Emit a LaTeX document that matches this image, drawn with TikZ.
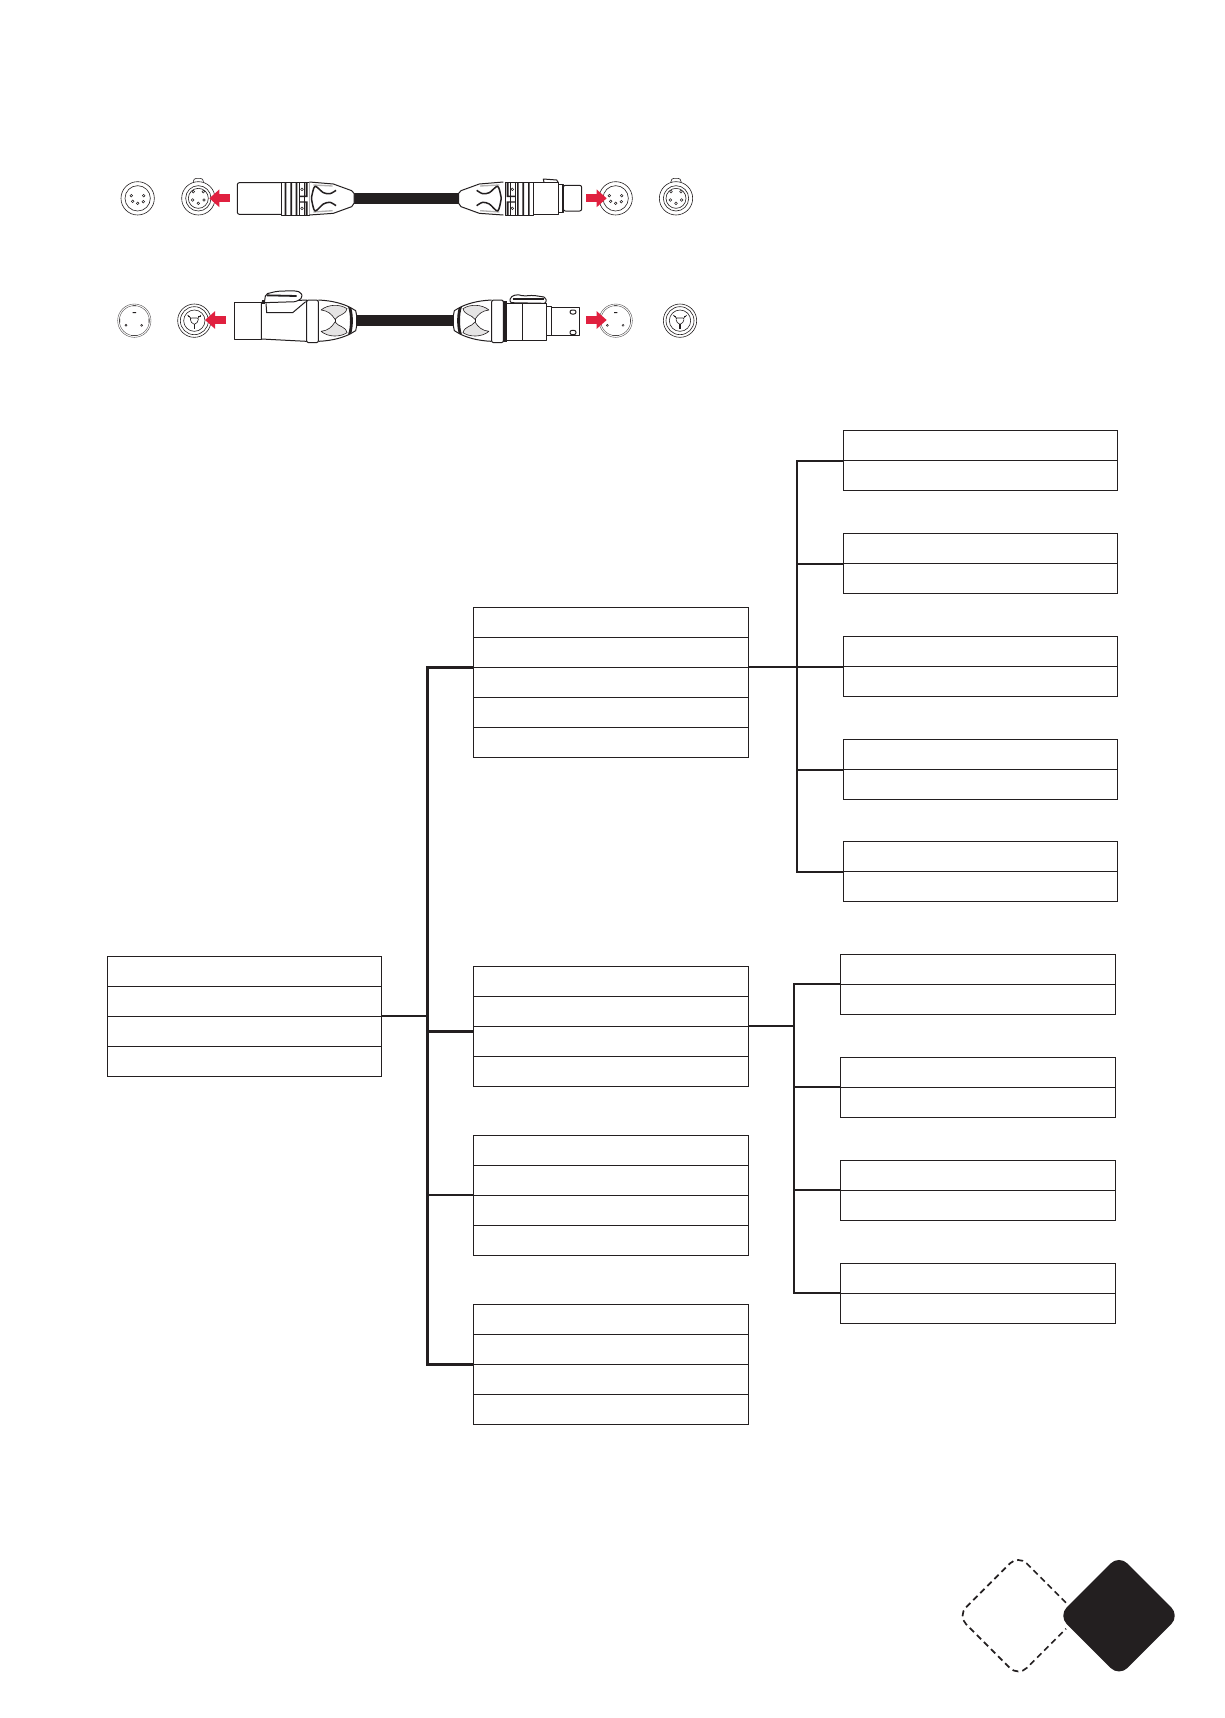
\documentclass[tikz,border=0pt]{standalone}
\usepackage{amsmath}
\usetikzlibrary{
  arrows.meta,
  positioning
}
\definecolor{Ink}{HTML}{231F20}
\definecolor{PlugRed}{HTML}{E0203F}
\tikzset{
  % Table row: fixed size, stacked without gaps
  cell/.style={
    rectangle, draw=Ink, line width=0.5pt,
    minimum width=137.3pt, minimum height=15pt,
    inner sep=0pt, outer sep=0pt
  },
  % Tree lines
  bus/.style={draw=Ink, line width=#1},
  bus/.default=1pt,
  % Plug outline
  plug/.style={draw=Ink, line width=0.5pt, line join=round},
  thin/.style={draw=Ink, line width=0.3pt},
  cable/.style={draw=Ink, line width=5.6pt},
  % Insert direction
  redarr/.style={
    -{Triangle[length=5pt,width=8.5pt]},
    line width=4pt, color=PlugRed
  },
  % Socket faces
  pin/.style={draw=Ink, line width=0.25pt, fill=white},
  xlrmale/.pic={
    \draw[thin] (0,0) circle (50) (0,0) circle (38);
    \foreach \a/\b in {-19/-8,18/-8,-15/9,17/10,0/15}
      \draw[pin] (\a,\b) circle (4);
  },
  xlrfemale/.pic={
    \draw[thin,fill=white,rounded corners=1.5pt] (-15,-45) -- (-15,-60) -- (15,-60) -- (15,-45);
    \draw[thin,fill=white] (0,0) circle (50);
    \draw[thin] (0,0) circle (38) (0,0) circle (30);
    \foreach \a/\b in {-15/-20,15/-20,-17/5,17/5,0/15}
      \draw[pin] (\a,\b) circle (4);
  },
  nlmale/.pic={
    \draw[draw=Ink!80,line width=0.2pt] (0,0) circle (50) (0,0) circle (45);
    \fill[Ink] (-5,-26) rectangle (5,-23) (-45,-6) rectangle (-43,6) (43,-6) rectangle (45,6)
      (-10,43) rectangle (10,45) (-5,-46) rectangle (5,-44);
    \draw[pin] (-25,14) circle (3) (22,14) circle (3);
  },
  nlfemale/.pic={
    \draw[thin] (0,0) circle (50) (0,0) circle (42) (0,0) circle (32);
    \draw[thin] (-20,-17) -- (-10,-7) (20,-17) -- (10,-7);
    \draw[plug,line width=0.8pt] (0,11) -- (0,24);
    \draw[thin,rounded corners=1pt] (-14,-8) -- (14,-8) -- (6,11) -- (-6,11) -- cycle;
    \draw[thin] (-19,-13) -- (-12,-13) (19,-13) -- (12,-13);
  },
  % XLR collar and boot, drawn from the body towards the cable
  xlrcollar/.pic={
    \draw[plug] (0,-48) rectangle (85,50);
    \fill[Ink] (11,-48) rectangle (16,50) (28,-48) rectangle (33,50) (44,-48) rectangle (49,50)
      (74,-48) rectangle (80,-8) (74,12) rectangle (80,50) (55,-8) rectangle (80,-4) (55,9) rectangle (80,13);
    \draw[thin] (55,-48) -- (55,50) (70,-48) -- (70,50);
    \draw[pin] (63,-27) circle (4) (63,30) circle (4);
  },
  xlrboot/.pic={
    \draw[plug,fill=white] (0,-49) -- (72,-43) -- (127,-23) -- (134,-15) -- (134,15) -- (127,25) -- (72,45) -- (0,50);
    \fill[Ink!35] (12,-42) -- (70,-39) -- (70,-35) -- (12,-38) -- cycle (12,43) -- (70,39) -- (70,35) -- (12,39) -- cycle;
    \draw[plug,line width=0.75pt] plot[smooth] coordinates {(80,-24) (62,-14) (42,-17) (17,-36) (7,-5) (7,5) (17,38) (42,17) (62,12) (80,22)};
  },
  % Locking connector boot
  nlboot/.pic={
    \draw[plug,fill=white] (0,-62) .. controls (45,-60) and (75,-50) .. (95,-40) -- (112,-30) -- (115,-15)
      -- (115,15) -- (112,30) -- (95,40) .. controls (75,50) and (45,60) .. (0,62);
    \fill[Ink] (89,-42) .. controls (97,-20) and (97,20) .. (89,42) -- (99,38) .. controls (105,15) and (105,-15) .. (99,-38) -- cycle;
    \draw[thin,fill=Ink!12] (8,-32) .. controls (30,-50) and (65,-50) .. (86,-36) .. controls (80,-15) and (62,-20) .. (50,-4)
      .. controls (40,-20) and (28,-30) .. (8,-32);
    \draw[thin,fill=Ink!12] (8,32) .. controls (30,50) and (65,50) .. (86,36) .. controls (80,15) and (62,20) .. (50,4)
      .. controls (40,20) and (28,30) .. (8,32);
    \draw[thin] (50,-4) -- (50,4);
  }
}
\begin{document}
\begin{tikzpicture}[x=0.5pt,y=-0.5pt]
  \useasboundingbox (0,0) rectangle (1225,1718);

  % Left table
  \node[cell,anchor=north west] (roota) at (107.2,956) {};
  \node[cell,below=0pt of roota] (rootb) {};
  \node[cell,below=0pt of rootb] (rootc) {};
  \node[cell,below=0pt of rootc] (rootd) {};

  % Middle tables
  \node[cell,anchor=north west] (ma) at (473.6,607.3) {};
  \node[cell,below=0pt of ma] (mb) {};
  \node[cell,below=0pt of mb] (mc) {};
  \node[cell,below=0pt of mc] (md) {};
  \node[cell,below=0pt of md] (me) {};

  \node[cell,anchor=north west] (na) at (473.6,966.3) {};
  \node[cell,below=0pt of na] (nb) {};
  \node[cell,below=0pt of nb] (nc) {};
  \node[cell,below=0pt of nc] (nd) {};

  \node[cell,anchor=north west] (oa) at (473.6,1135.3) {};
  \node[cell,below=0pt of oa] (ob) {};
  \node[cell,below=0pt of ob] (oc) {};
  \node[cell,below=0pt of oc] (od) {};

  \node[cell,anchor=north west] (pa) at (473.6,1304.3) {};
  \node[cell,below=0pt of pa] (pb) {};
  \node[cell,below=0pt of pb] (pc) {};
  \node[cell,below=0pt of pc] (pd) {};

  % Right tables, upper group
  \node[cell,anchor=north west] (ua) at (843.2,430.5) {};
  \node[cell,below=0pt of ua] (ub) {};
  \node[cell,anchor=north west] (va) at (843.2,533.5) {};
  \node[cell,below=0pt of va] (vb) {};
  \node[cell,anchor=north west] (wa) at (843.2,636.5) {};
  \node[cell,below=0pt of wa] (wb) {};
  \node[cell,anchor=north west] (xa) at (843.2,739.5) {};
  \node[cell,below=0pt of xa] (xb) {};
  \node[cell,anchor=north west] (za) at (843.2,841.5) {};
  \node[cell,below=0pt of za] (zb) {};

  % Right tables, lower group
  \node[cell,anchor=north west] (ga) at (840.6,954.3) {};
  \node[cell,below=0pt of ga] (gb) {};
  \node[cell,anchor=north west] (ha) at (840.6,1057.3) {};
  \node[cell,below=0pt of ha] (hb) {};
  \node[cell,anchor=north west] (ia) at (840.6,1160.3) {};
  \node[cell,below=0pt of ia] (ib) {};
  \node[cell,anchor=north west] (ja) at (840.6,1263.3) {};
  \node[cell,below=0pt of ja] (jb) {};

  % Tree junctions
  \coordinate (rootj) at (427.7,1016);
  \coordinate (upj) at (797.2,667.3);
  \coordinate (lowj) at (794,1026.3);

  % Tree lines
  \draw[bus] (rootb.south east) -- (rootj);
  \draw[bus=1.25pt] (mb.south west) -| (rootj);
  \draw[bus=1.25pt] (pb.south west) -| (rootj);
  \draw[bus=1.5pt] ([yshift=-2.5pt]nb.south west) -- ([yshift=-2.5pt]nb.south west -| rootj);
  \draw[bus] (ob.south west) -- (ob.south west -| rootj);

  \draw[bus] (mb.south east) -- (upj) -- (upj -| wa.west);
  \draw[bus] (ua.south west) -| (upj);
  \draw[bus] (za.south west) -| (upj);
  \draw[bus] (va.south west) -- (va.south west -| upj);
  \draw[bus] (xa.south west) -- (xa.south west -| upj);

  \draw[bus] (nb.south east) -- (lowj);
  \draw[bus] (ga.south west) -| (lowj);
  \draw[bus] (ja.south west) -| (lowj);
  \draw[bus] (ha.south west) -- (ha.south west -| lowj);
  \draw[bus] (ia.south west) -- (ia.south west -| lowj);

  % Cables
  \draw[cable] (352,198.3) -- (461,198.3);
  \draw[cable] (356,320.7) -- (455,320.7);

  % Left end of both cables
  \begin{scope}[shift={(100,160)},x=0.16667pt,y=-0.16667pt]
    \pic at (113,115) {xlrmale};
    \pic at (295,115) {xlrfemale};
    \draw[plug,rounded corners=1pt] (543,68) -- (412,68) -- (412,163) -- (543,163);
    \pic at (543,115) {xlrcollar};
    \pic at (628,115) {xlrboot};

    \pic at (103,482) {nlmale};
    \pic at (283,482) {nlfemale};
    \draw[plug] (403,427) rectangle (484,537);
    \draw[plug,fill=white] (484,427) -- (620,420) -- (620,544) -- (484,537) -- cycle;
    \draw[plug,fill=white,rounded corners=1pt] (493,428) -- (497,402) -- (530,394) -- (580,392) -- (602,396) -- (608,412) -- (590,425) -- (493,428);
    \draw[plug,line width=0.9pt] (500,406) -- (590,408);
    \fill[Ink] (486,420) rectangle (496,432);
    \draw[plug] (498,430) -- (500,458) -- (578,458) -- (617,425);
    \pic at (655,482) {nlboot};
    \draw[plug,fill=white,rounded corners=1pt] (620,420) rectangle (655,548);
  \end{scope}

  % Right end of both cables
  \begin{scope}[shift={(400,160)},x=0.16667pt,y=-0.16667pt]
    \pic at (647,115) {xlrmale};
    \pic at (828,115) {xlrfemale};
    \pic[xscale=-1] at (310,115) {xlrboot};
    \pic[xscale=-1] at (400,115) {xlrcollar};
    \draw[plug,fill=white] (432,68) -- (430,57) -- (470,60) -- (475,68);
    \draw[plug,fill=white] (400,68) rectangle (475,163);
    \draw[plug] (475,72) rectangle (490,158);
    \fill[Ink] (485,72) rectangle (490,158);
    \draw[plug,rounded corners=1pt] (490,76) rectangle (545,153);

    \pic at (647,482) {nlmale};
    \pic at (840,482) {nlfemale};
    \pic[xscale=-1] at (275,482) {nlboot};
    \draw[plug,fill=white,rounded corners=1pt] (275,420) rectangle (310,548);
    \fill[Ink] (310,424) rectangle (320,545);
    \draw[plug,fill=white,rounded corners=1pt] (330,428) -- (330,412) -- (350,403) -- (370,408) -- (400,406) -- (438,412) -- (438,430) -- cycle;
    \draw[plug,line width=0.9pt] (338,418) -- (432,418);
    \draw[plug] (320,430) rectangle (440,540) (367,430) -- (367,540);
    \draw[plug] (440,440) rectangle (455,527);
    \draw[plug] (455,442) rectangle (537,527);
    \draw[plug,fill=white,rounded corners=1pt] (510,450) rectangle (528,462);
    \draw[plug,fill=white,rounded corners=1pt] (510,511) rectangle (528,524);
  \end{scope}

  % Arrows towards the sockets
  \draw[redarr] (229.5,198.3) -- (209.3,198.3);
  \draw[redarr] (226,320) -- (205,320);
  \draw[redarr] (586,198.3) -- (606.7,198.3);
  \draw[redarr] (586,320) -- (606.7,320);

  % Corner mark
  \draw[line width=0.85pt,draw=Ink,rounded corners=6pt,dash pattern=on 3pt off 2pt]
    (1066,1602.7) -- (1018.3,1555) -- (957.6,1615.7) -- (1018.3,1676.4) -- (1066,1628.7);
  \fill[Ink,rounded corners=6pt] (1119,1555) -- (1179.7,1615.7) -- (1119,1676.4) -- (1058.3,1615.7) -- cycle;
\end{tikzpicture}
\end{document}
